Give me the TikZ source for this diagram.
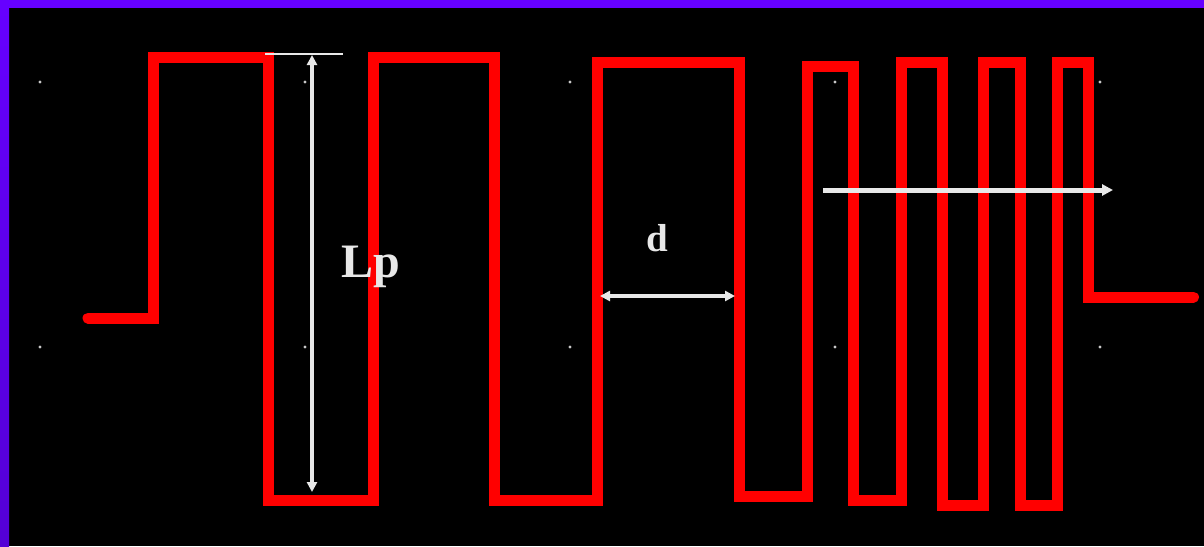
\documentclass[tikz,border=0pt]{standalone}
\usepackage{fontspec}
\setmainfont{Liberation Serif}
\usetikzlibrary{arrows.meta}
\definecolor{borderpurple}{RGB}{102,0,255}
\definecolor{borderdark}{RGB}{84,0,214}
\definecolor{dimwhite}{RGB}{232,232,232}
\definecolor{dotgray}{RGB}{200,200,200}
\tikzset{
  trace/.style={draw=red, line width=11pt, line cap=round, line join=miter},
  dimarrow/.style={draw=dimwhite, line width=5pt, -{Triangle[length=11pt,width=11pt]}},
  dimboth/.style={draw=dimwhite, line width=4.8pt, {Triangle[length=10pt,width=10pt]}-{Triangle[length=10pt,width=10pt]}},
  reflinestyle/.style={draw=dimwhite, line width=2pt},
  gridpt/.style={fill=dotgray},
  lbl/.style={text=dimwhite, font=\bfseries, anchor=base, inner sep=0pt}
}
\begin{document}
\begin{tikzpicture}[x=1pt,y=-1pt]
\useasboundingbox (0,0) rectangle (1204,546);
\fill[black] (0,0) rectangle (1204,546);
% border
\shade[top color=borderpurple, bottom color=borderdark] (0,0) rectangle (9,546);
\fill[borderpurple] (0,0) rectangle (1204,8);
% grid dots
\foreach \gx in {40,305,570,835,1100}{
  \foreach \gy in {82,347}{
    \fill[gridpt] (\gx,\gy) circle (1.7);
  }
}
% red meander trace
\draw[trace] (88,318) -- (153.5,318) -- (153.5,57) -- (268.5,57) -- (268.5,500)
  -- (373,500) -- (373,57) -- (494.5,57) -- (494.5,500.5) -- (597.5,500.5)
  -- (597.5,62) -- (739,62) -- (739,496) -- (807.5,496) -- (807.5,66)
  -- (853,66) -- (853,500) -- (901.5,500) -- (901.5,62) -- (942,62)
  -- (942,505) -- (983.5,505) -- (983.5,62) -- (1020,62) -- (1020,505)
  -- (1057,505) -- (1057,62) -- (1088.5,62) -- (1088.5,297) -- (1193.5,297);
% reference line at top
\coordinate (refL) at (265,53.5);
\coordinate (refR) at (343,53.5);
\draw[reflinestyle] (refL) -- (refR);
% Lp dimension
\coordinate (lpTop) at (312,55);
\coordinate (lpBot) at (312,492);
\draw[dimboth] (lpTop) -- (lpBot);
\node[lbl, font=\bfseries\fontsize{48}{48}\selectfont] (lp) at (371,277) {Lp};
% d dimension
\coordinate (dL) at (600,296);
\coordinate (dR) at (735,296);
\draw[dimboth] (dL) -- (dR);
\node[lbl, font=\bfseries\fontsize{39}{39}\selectfont] (d) at (657.5,251) {d};
% direction arrow
\coordinate (dirS) at (823,190);
\coordinate (dirE) at (1113,190);
\draw[dimarrow] (dirS) -- (dirE);
\end{tikzpicture}
\end{document}
